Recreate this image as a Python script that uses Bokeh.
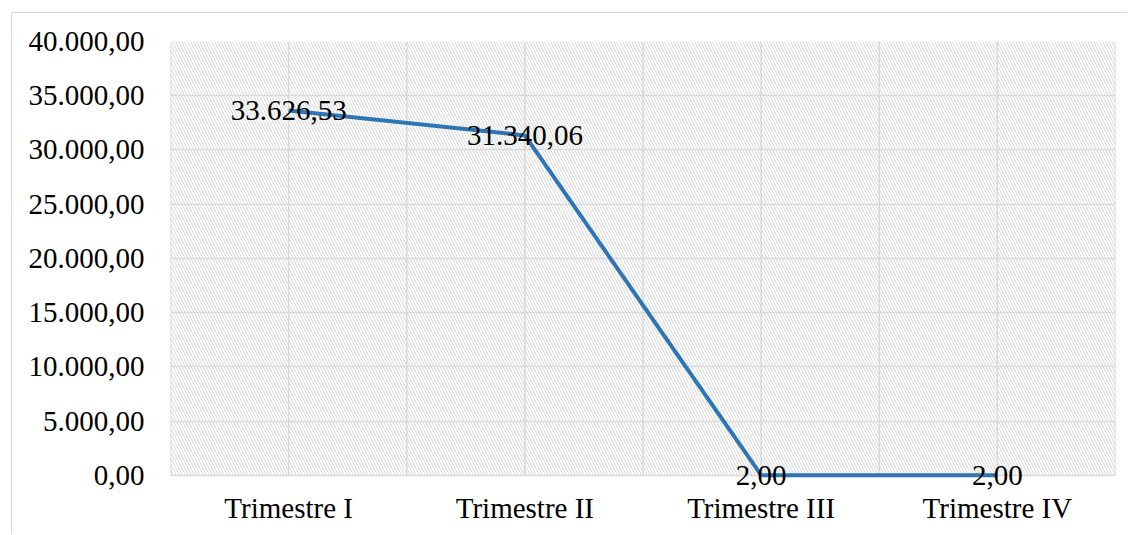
from bokeh.plotting import figure
from bokeh.models import ColumnDataSource, FixedTicker, BoxAnnotation, LabelSet
from bokeh.embed import file_html
from bokeh.resources import INLINE

categories = ["Trimestre I", "Trimestre II", "Trimestre III", "Trimestre IV"]
values = [33626.53, 31340.06, 2.00, 2.00]
labels = ["33.626,53", "31.340,06", "2,00", "2,00"]
y_ticks = [0, 5000, 10000, 15000, 20000, 25000, 30000, 35000, 40000]
y_tick_labels = ["0,00", "5.000,00", "10.000,00", "15.000,00", "20.000,00",
                 "25.000,00", "30.000,00", "35.000,00", "40.000,00"]

FONT = "Liberation Serif"
GRID = "#d9d9d9"

source = ColumnDataSource(dict(cat=categories, val=values, lab=labels))

# frame extends a bit below 0 so that the "2,00" labels are not clipped
p = figure(width=1116, height=522, x_range=categories, y_range=(-1500, 40000),
           output_backend="svg", toolbar_location=None,
           min_border_left=158, min_border_right=13, min_border_top=28, min_border_bottom=44)
p.margin = (12, 0, 0, 11)
p.styles = {"border-left": "1px solid #d9d9d9", "border-top": "1px solid #d9d9d9"}
p.x_range.range_padding = 0
p.background_fill_color = "white"
p.border_fill_color = "white"
p.outline_line_color = None

ymin, ymax = y_ticks[0], y_ticks[-1]
n = len(categories)

# hatched plot area with outline
bg = BoxAnnotation(left=0, right=n, bottom=ymin, top=ymax,
                   fill_alpha=0, hatch_pattern="\\", hatch_color="#d9d9d9",
                   hatch_scale=6, hatch_weight=1.0, line_color=GRID, line_width=1.5, level="underlay")
p.add_layout(bg)

# gridlines
p.ygrid.ticker = FixedTicker(ticks=y_ticks)
p.ygrid.grid_line_color = GRID
p.ygrid.grid_line_width = 1.5
p.xgrid.grid_line_color = None
vx = [i / 2 for i in range(2 * n + 1)]
p.segment(x0=vx, y0=[ymin] * len(vx), x1=vx, y1=[ymax] * len(vx),
          line_color=GRID, line_width=1.5, level="underlay")

# axes
p.yaxis.ticker = FixedTicker(ticks=y_ticks)
p.yaxis.major_label_overrides = {t: l for t, l in zip(y_ticks, y_tick_labels)}
for ax in (p.xaxis[0], p.yaxis[0]):
    ax.axis_line_color = None
    ax.major_tick_line_color = None
    ax.minor_tick_line_color = None
    ax.major_label_text_font = FONT
    ax.major_label_text_font_size = "29px"
    ax.major_label_text_color = "#000000"
p.yaxis.major_label_standoff = 20
p.xaxis.major_label_standoff = -6

p.line("cat", "val", source=source, line_color="#2e75b6", line_width=4)
p.add_layout(LabelSet(x="cat", y="val", text="lab", source=source, text_align="center",
                      text_baseline="middle", text_font=FONT, text_font_size="29px",
                      text_color="#000000"))

open("out.html", "w").write(file_html(p, INLINE))
